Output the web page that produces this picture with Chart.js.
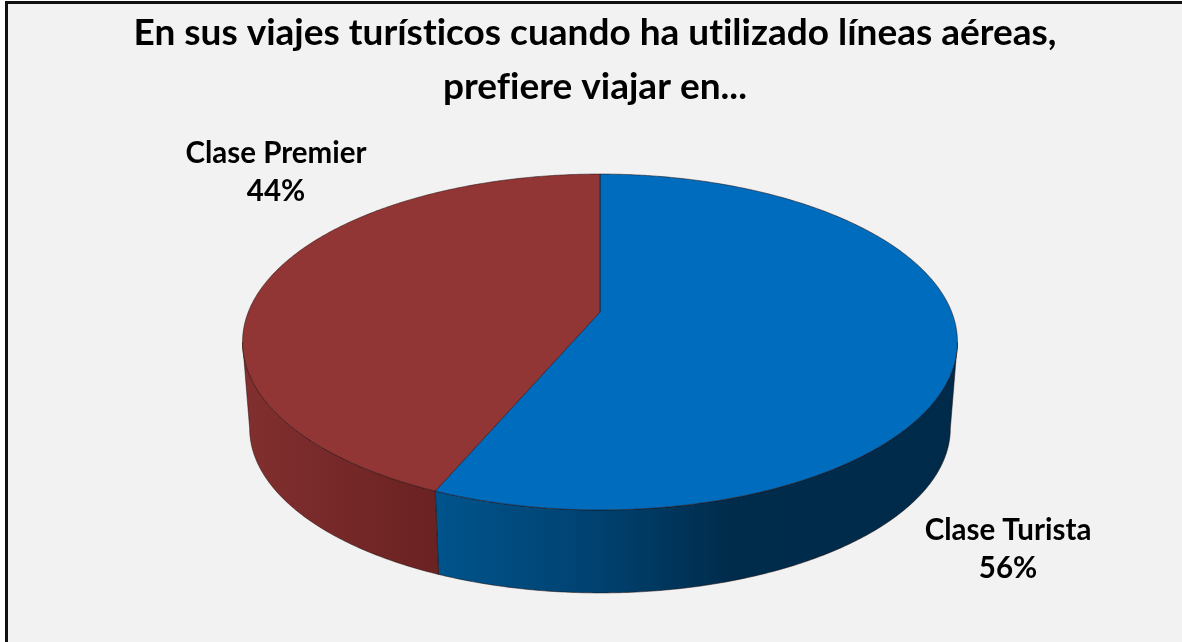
<!DOCTYPE html>
<html>
<head>
<meta charset="utf-8">
<title>Clase de viaje</title>
<script src="https://cdn.jsdelivr.net/npm/chart.js@4/dist/chart.umd.min.js"></script>
<style>
    html, body { margin: 0; padding: 0; background: #fff; overflow: hidden; }
    #frame {
        position: absolute; left: 5px; top: 1px; width: 1177px; height: 641px;
        box-sizing: border-box; background: #f2f2f2;
        border-left: 3px solid #111; border-top: 3px solid #111;
    }
    #myChart { position: absolute; left: 0; top: 0; }
</style>
</head>
<body>
<div id="frame"></div>
<canvas id="myChart" width="1182" height="642"></canvas>
<script>
// Chart data
const titleLines = ['En sus viajes turísticos cuando ha utilizado líneas aéreas,', 'prefiere viajar en...'];
const categories = ['Clase Turista', 'Clase Premier'];
const shares = [56.4, 43.6];
const sliceColors = ['#006cbd', '#923535'];
const labelAnchors = [[1008, 530], [276, 153]];

// Perspective of the pie disc (top face and the smaller bottom face)
const topFace = { cx: 600, cy: 312, a: 351.7, b: 162.6, k: 0.1786 };
const bottomFace = { cx: 600, cy: 399, a: 344.7, b: 159.3, k: 0.1786 };
const silhouette = 100.3 * Math.PI / 180;

// theta is measured clockwise from the top of the pie
function project(face, theta) {
    const u = Math.sin(theta), v = -Math.cos(theta);
    const w = 1 - face.k * v;
    return [face.cx + face.a * u / w, face.cy + face.b * v / w];
}

function tracePoints(ctx, face, from, to, first) {
    const steps = Math.max(2, Math.ceil(Math.abs(to - from) / 0.01));
    for (let i = 0; i <= steps; i++) {
        const p = project(face, from + (to - from) * i / steps);
        if (i === 0 && first) ctx.moveTo(p[0], p[1]);
        else ctx.lineTo(p[0], p[1]);
    }
}

function sideGradient(ctx, index) {
    const g = ctx.createLinearGradient(240, 0, 960, 0);
    if (index === 0) {
        g.addColorStop(0.27, '#00548c');
        g.addColorStop(0.5, '#00416f');
        g.addColorStop(0.68, '#002c4c');
        g.addColorStop(1, '#002a49');
    } else {
        g.addColorStop(0, '#822f2f');
        g.addColorStop(0.27, '#6b2222');
    }
    return g;
}

// Draws the arcs of the pie through the projection instead of the flat default
const pie3d = {
    id: 'pie3d',
    beforeDraw(chart) {
        // no ligatures, the original text has none
        chart.ctx.textRendering = 'optimizeSpeed';
    },
    beforeDatasetsDraw(chart) {
        const ctx = chart.ctx;
        const arcs = chart.getDatasetMeta(0).data;
        ctx.save();
        ctx.lineJoin = 'round';
        ctx.lineWidth = 1;
        ctx.strokeStyle = 'rgba(30,10,10,0.5)';

        // side wall, front part only
        arcs.forEach((arc, i) => {
            const start = Math.max(arc.startAngle + Math.PI / 2, silhouette);
            const end = Math.min(arc.endAngle + Math.PI / 2, 2 * Math.PI - silhouette);
            if (end <= start) return;
            ctx.beginPath();
            tracePoints(ctx, topFace, start, end, true);
            tracePoints(ctx, bottomFace, end, start, false);
            ctx.closePath();
            ctx.fillStyle = sideGradient(ctx, i);
            ctx.fill();
            ctx.stroke();
        });

        // top face
        arcs.forEach((arc, i) => {
            const start = arc.startAngle + Math.PI / 2;
            const end = arc.endAngle + Math.PI / 2;
            ctx.beginPath();
            ctx.moveTo(topFace.cx, topFace.cy);
            tracePoints(ctx, topFace, start, end, false);
            ctx.closePath();
            ctx.fillStyle = sliceColors[i];
            ctx.fill();
            ctx.stroke();
        });
        ctx.restore();
        return false;
    },
    afterDraw(chart) {
        const ctx = chart.ctx;
        ctx.save();
        ctx.font = 'bold 29.5px Lato';
        ctx.fillStyle = '#000';
        ctx.textAlign = 'center';
        ctx.textBaseline = 'middle';
        categories.forEach((name, i) => {
            ctx.fillText(name, labelAnchors[i][0], labelAnchors[i][1]);
            ctx.fillText(Math.round(shares[i]) + '%', labelAnchors[i][0], labelAnchors[i][1] + 38);
        });
        ctx.restore();
    }
};

new Chart(document.getElementById('myChart'), {
    type: 'pie',
    data: {
        labels: categories,
        datasets: [{ data: shares, backgroundColor: sliceColors, borderWidth: 0 }]
    },
    options: {
        responsive: false,
        animation: false,
        layout: { padding: { left: 8, top: 0 } },
        plugins: {
            legend: { display: false },
            tooltip: { enabled: false },
            title: {
                display: true,
                text: titleLines,
                color: '#000',
                font: { family: 'Lato', weight: 'bold', size: 37, lineHeight: 1.46 },
                padding: { top: 6, bottom: 0 }
            }
        }
    },
    plugins: [pie3d]
});
</script>
</body>
</html>
